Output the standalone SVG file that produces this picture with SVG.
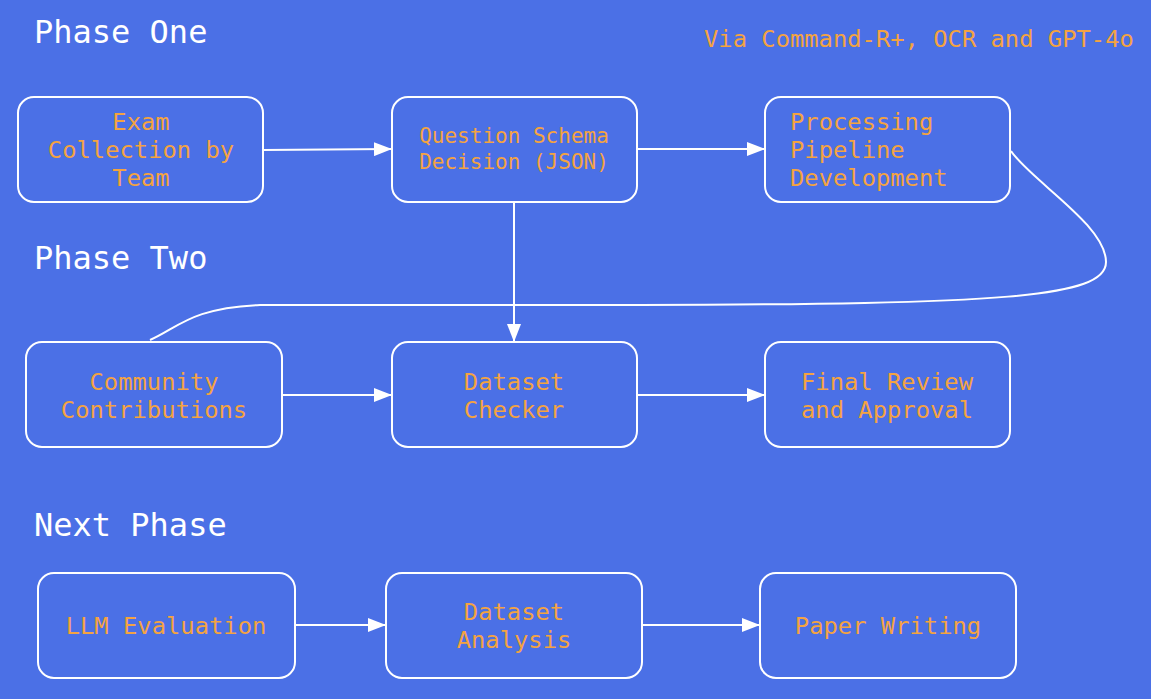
<svg xmlns="http://www.w3.org/2000/svg" width="1151" height="699" viewBox="0 0 1151 699">
<style>
.node rect{fill:#4b70e6;stroke:#ffffff;stroke-width:2}
.lbl{font-family:"DejaVu Sans Mono","Liberation Mono",monospace;font-size:23.8px;fill:#f4a341;text-anchor:middle}
.sm{font-size:21px}
.title{font-family:"DejaVu Sans Mono","Liberation Mono",monospace;font-size:32px;fill:#ffffff}
.edge{fill:none;stroke:#ffffff;stroke-width:2}
</style>
<defs>
<marker id="arr" viewBox="0 0 18 14" refX="17" refY="7" markerWidth="18" markerHeight="14" markerUnits="userSpaceOnUse" orient="auto">
<path d="M0,0 L18,7 L0,14 z" fill="#ffffff"/>
</marker>
</defs>
<rect width="1151" height="699" fill="#4b70e6"/>
<text class="title" x="34" y="43">Phase One</text>
<text class="title" x="34" y="269">Phase Two</text>
<text class="title" x="34" y="536">Next Phase</text>
<text class="lbl" x="704" y="47" style="text-anchor:start">Via Command-R+, OCR and GPT-4o</text>
<g id="connectors">
<path class="edge" d="M263,150 L391,149" marker-end="url(#arr)"/>
<path class="edge" d="M637,149 L764,149" marker-end="url(#arr)"/>
<path class="edge" d="M514,202 L514,341" marker-end="url(#arr)"/>
<path class="edge" d="M1011,151 C1030,180 1106,225 1106,262 C1106,298 1000,304 640,305 L260,305 C190,308 178,328 150,340"/>
<path class="edge" d="M282,395 L391,395" marker-end="url(#arr)"/>
<path class="edge" d="M637,395 L764,395" marker-end="url(#arr)"/>
<path class="edge" d="M295,625 L385,625" marker-end="url(#arr)"/>
<path class="edge" d="M642,625 L759,625" marker-end="url(#arr)"/>
</g>
<g id="exam" class="node">
<rect x="18" y="97" width="245" height="105" rx="16"/>
<text class="lbl" x="141" y="130">Exam</text>
<text class="lbl" x="141" y="158">Collection by</text>
<text class="lbl" x="141" y="186">Team</text>
</g>
<g id="schema" class="node">
<rect x="392" y="97" width="245" height="105" rx="16"/>
<text class="lbl sm" x="514" y="143">Question Schema</text>
<text class="lbl sm" x="514" y="169">Decision (JSON)</text>
</g>
<g id="pipeline" class="node">
<rect x="765" y="97" width="245" height="105" rx="16"/>
<text class="lbl" x="790" y="130" style="text-anchor:start">Processing</text>
<text class="lbl" x="790" y="158" style="text-anchor:start">Pipeline</text>
<text class="lbl" x="790" y="186" style="text-anchor:start">Development</text>
</g>
<g id="community" class="node">
<rect x="26" y="342" width="256" height="105" rx="16"/>
<text class="lbl" x="154" y="390">Community</text>
<text class="lbl" x="154" y="418">Contributions</text>
</g>
<g id="checker" class="node">
<rect x="392" y="342" width="245" height="105" rx="16"/>
<text class="lbl" x="514" y="390">Dataset</text>
<text class="lbl" x="514" y="418">Checker</text>
</g>
<g id="review" class="node">
<rect x="765" y="342" width="245" height="105" rx="16"/>
<text class="lbl" x="887" y="390">Final Review</text>
<text class="lbl" x="887" y="418">and Approval</text>
</g>
<g id="llm" class="node">
<rect x="38" y="573" width="257" height="105" rx="16"/>
<text class="lbl" x="166" y="634">LLM Evaluation</text>
</g>
<g id="analysis" class="node">
<rect x="386" y="573" width="256" height="105" rx="16"/>
<text class="lbl" x="514" y="620">Dataset</text>
<text class="lbl" x="514" y="648">Analysis</text>
</g>
<g id="paper" class="node">
<rect x="760" y="573" width="256" height="105" rx="16"/>
<text class="lbl" x="888" y="634">Paper Writing</text>
</g>
</svg>
